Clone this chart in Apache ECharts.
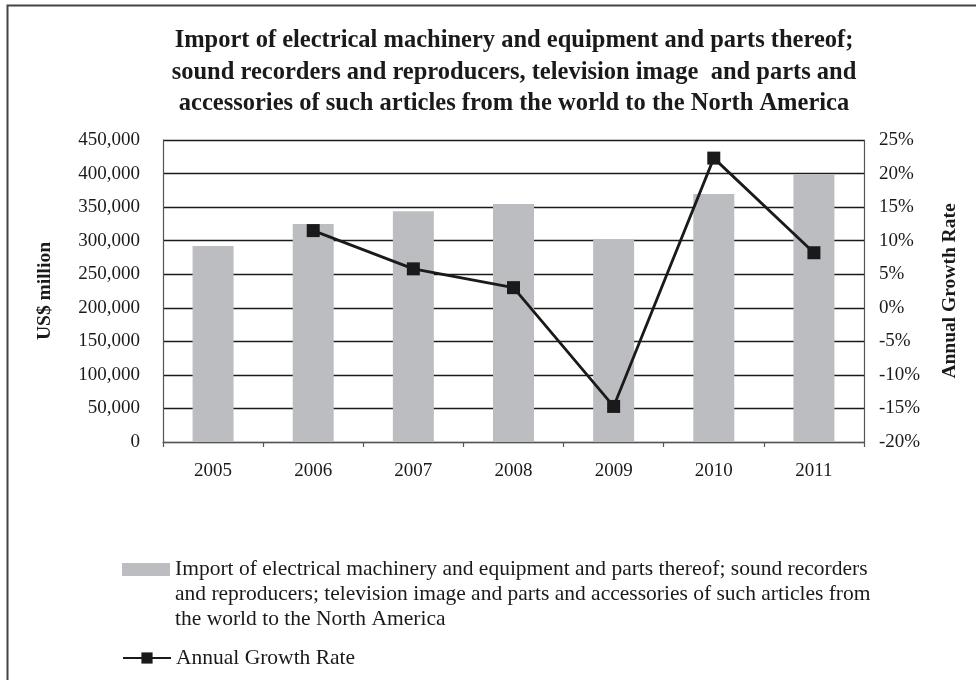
<!DOCTYPE html>
<html>
<head>
<meta charset="utf-8">
<title>Import of electrical machinery and equipment - North America</title>
<script src="https://cdn.jsdelivr.net/npm/echarts@6/dist/echarts.min.js"></script>
<style>
  html, body { margin: 0; padding: 0; background: #ffffff; }
  #chart { width: 976px; height: 680px; }
</style>
</head>
<body>
<div id="chart"></div>
<script>
// Years on the category axis
const years = ['2005', '2006', '2007', '2008', '2009', '2010', '2011'];

// Import value, US$ million
const importValues = [292000, 325000, 344000, 354500, 302500, 369500, 399500];

// Year-on-year growth of the import value, %
const growthRates = [null, 11.5, 5.8, 3.0, -14.7, 22.3, 8.2];

const titleLines = [
  'Import of electrical machinery and equipment and parts thereof;',
  'sound recorders and reproducers, television image  and parts and',
  'accessories of such articles from the world to the North America'
];

const barSeriesName = 'Import of electrical machinery and equipment and parts thereof; sound recorders and reproducers; television image and parts and accessories of such articles from the world to the North America';
const barLegendLines = [
  'Import of electrical machinery and equipment and parts thereof; sound recorders',
  'and reproducers; television image and parts and accessories of such articles from',
  'the world to the North America'
];
const lineSeriesName = 'Annual Growth Rate';

const serif = "'Liberation Serif', 'Times New Roman', serif";
const ink = '#1a1a1a';

// Legend swatch for the bars: a 48x13 block sitting beside the first text line
// of a three-line label; the two zero-length sub-paths stretch the icon box to
// the full label height so the block stays at the top.
const barLegendIcon = 'path://M0,0L0.01,0M0,75L0.01,75M0,6L48,6L48,19L0,19Z';

const chart = echarts.init(document.getElementById('chart'), null, { renderer: 'canvas' });

chart.setOption({
  backgroundColor: '#ffffff',
  animation: false,
  title: {
    text: titleLines.join('\n'),
    left: 509,
    top: 20,
    textAlign: 'center',
    textStyle: {
      fontFamily: serif,
      fontWeight: 'bold',
      fontSize: 24.5,
      lineHeight: 31.5,
      color: ink
    }
  },
  legend: [
    {
      data: [{ name: barSeriesName, icon: barLegendIcon }],
      orient: 'vertical',
      left: 117,
      top: 552,
      itemWidth: 48,
      itemHeight: 75,
      formatter: () => barLegendLines.join('\n'),
      textStyle: {
        fontFamily: serif,
        fontSize: 21.5,
        lineHeight: 25,
        color: ink
      }
    },
    {
      data: [lineSeriesName],
      orient: 'vertical',
      left: 117,
      top: 642,
      itemWidth: 48,
      itemHeight: 14,
      textStyle: {
        fontFamily: serif,
        fontSize: 21.5,
        color: ink
      }
    }
  ],
  grid: {
    left: 163,
    right: 112,
    top: 140,
    bottom: 238,
    containLabel: false
  },
  xAxis: {
    type: 'category',
    data: years,
    boundaryGap: true,
    axisLine: { show: true, lineStyle: { color: '#555', width: 1.2 } },
    axisTick: { show: true, length: 5, alignWithLabel: false, lineStyle: { color: '#555', width: 1.2 } },
    axisLabel: { margin: 20, fontFamily: serif, fontSize: 19, color: ink }
  },
  yAxis: [
    {
      type: 'value',
      min: 0,
      max: 450000,
      interval: 50000,
      name: 'US$ million',
      nameLocation: 'middle',
      nameRotate: 90,
      nameGap: 108,
      nameTextStyle: { fontFamily: serif, fontWeight: 'bold', fontSize: 19.5, color: ink },
      axisLine: { show: true, lineStyle: { color: '#555', width: 1.2 } },
      axisTick: { show: false },
      axisLabel: {
        margin: 23,
        fontFamily: serif,
        fontSize: 19,
        color: ink,
        formatter: v => v.toLocaleString('en-US')
      },
      splitLine: { show: true, lineStyle: { color: ink, width: 1.4 } }
    },
    {
      type: 'value',
      min: -20,
      max: 25,
      interval: 5,
      position: 'right',
      name: 'Annual Growth Rate',
      nameLocation: 'middle',
      nameRotate: 90,
      nameGap: 76,
      nameTextStyle: { fontFamily: serif, fontWeight: 'bold', fontSize: 19.5, color: ink },
      axisLine: { show: true, lineStyle: { color: '#555', width: 1.2 } },
      axisTick: { show: false },
      axisLabel: {
        margin: 15,
        fontFamily: serif,
        fontSize: 19,
        color: ink,
        formatter: '{value}%'
      },
      splitLine: { show: false }
    }
  ],
  series: [
    {
      name: barSeriesName,
      type: 'bar',
      data: importValues,
      yAxisIndex: 0,
      barWidth: 41,
      itemStyle: { color: '#bcbdc1' },
      z: 2
    },
    {
      name: lineSeriesName,
      type: 'line',
      data: growthRates,
      yAxisIndex: 1,
      symbol: 'rect',
      symbolSize: 13,
      showSymbol: true,
      lineStyle: { color: ink, width: 2.8 },
      itemStyle: { color: ink },
      z: 3
    }
  ],
  graphic: [
    {
      type: 'polyline',
      shape: { points: [[7.5, 680], [7.5, 5.5], [976, 5.5]] },
      style: { stroke: '#444', lineWidth: 2, fill: null },
      silent: true
    }
  ]
});
</script>
</body>
</html>
